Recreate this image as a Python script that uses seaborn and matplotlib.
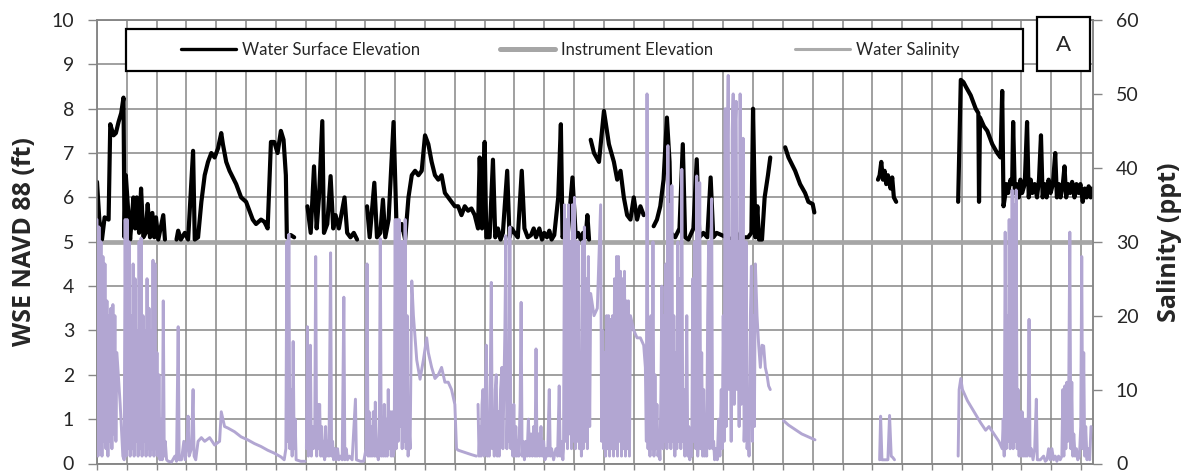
import numpy as np
import pandas as pd
import matplotlib
matplotlib.use("Agg")
import matplotlib.pyplot as plt
import seaborn as sns
from matplotlib.lines import Line2D
from matplotlib.patches import Rectangle

# ---------------- data: (t, value) readings; t = time index, one grid interval = 90 steps ----------------
# Water surface elevation (ft NAVD 88), one array per continuous record segment
wse_seg1 = [(0, 6.35), (7, 5.5), (15, 5.05), (23, 5.55), (35, 5.5), (40, 7.65), (50, 7.4), (57, 7.45), (65, 7.7),
            (73, 7.9), (80, 8.25), (83, 5.1), (87, 6.5), (95, 5.6), (100, 5.05), (110, 6.0), (115, 5.3), (120, 6.0),
            (127, 5.2), (133, 6.2), (140, 5.1), (147, 5.2), (153, 5.85), (160, 5.1), (167, 5.65), (173, 5.1),
            (178, 5.55), (185, 5.05), (200, 5.6), (205, 5.05)]
wse_seg2 = [(240, 5.05), (245, 5.25), (253, 5.05), (265, 5.2), (275, 5.05), (290, 7.05), (295, 5.05), (305, 5.1),
            (315, 5.9), (325, 6.5), (335, 6.8), (345, 7.0), (355, 6.9), (365, 7.1), (375, 7.45), (380, 7.2),
            (390, 6.8), (400, 6.6), (410, 6.45), (420, 6.3), (435, 6.0), (450, 5.9), (460, 5.7), (470, 5.5),
            (480, 5.4), (495, 5.5), (505, 5.45), (515, 5.3), (525, 7.25), (535, 7.25), (545, 7.0), (555, 7.5),
            (563, 7.3), (570, 6.5), (573, 5.1), (585, 5.15), (595, 5.1)]
wse_seg3 = [(635, 5.8), (645, 5.2), (655, 6.7), (663, 5.3), (670, 6.0), (680, 7.72), (685, 5.2), (695, 5.4),
            (705, 6.48), (713, 5.3), (720, 5.6), (730, 5.3), (747, 6.0), (755, 5.2), (765, 5.1), (775, 5.2),
            (785, 5.05)]
wse_seg4 = [(815, 5.8), (823, 5.1), (837, 6.33), (845, 5.1), (855, 5.2), (863, 5.95), (870, 5.1), (880, 5.5),
            (895, 7.7), (905, 5.1), (920, 5.4), (930, 5.05), (940, 6.0), (950, 6.5), (960, 6.6), (970, 6.5),
            (980, 6.6), (990, 7.4), (1000, 7.2), (1010, 6.8), (1020, 6.5), (1030, 6.4), (1040, 6.5), (1050, 6.1),
            (1060, 6.0), (1070, 5.9), (1080, 5.8), (1090, 5.8), (1100, 5.6), (1110, 5.8), (1120, 5.7), (1130, 5.75),
            (1140, 5.6), (1150, 5.3), (1155, 6.9), (1162, 5.3), (1170, 7.25), (1175, 5.1), (1185, 5.1), (1195, 6.85),
            (1202, 5.1), (1210, 5.3), (1218, 5.05), (1225, 5.2), (1238, 6.6), (1245, 5.1), (1252, 5.3), (1260, 5.2),
            (1270, 5.1), (1282, 6.6), (1290, 5.3), (1300, 5.1), (1310, 5.15), (1318, 5.3), (1325, 5.1), (1335, 5.3),
            (1343, 5.05), (1350, 5.2), (1358, 5.1), (1365, 5.25), (1372, 5.05), (1380, 5.15), (1392, 6.0),
            (1400, 7.65), (1405, 5.1), (1412, 5.25), (1420, 5.1), (1435, 6.45), (1445, 5.1), (1452, 5.2),
            (1460, 5.05), (1467, 5.2), (1475, 5.1), (1480, 5.6), (1485, 5.05)]
wse_seg5 = [(1490, 7.3), (1500, 7.0), (1515, 6.8), (1530, 7.95), (1545, 7.2), (1560, 6.8), (1570, 6.4), (1580, 6.6),
            (1590, 6.0), (1600, 5.6), (1610, 5.5), (1620, 6.0), (1630, 5.5), (1640, 5.8), (1650, 5.6)]
wse_seg6 = [(1680, 5.35), (1690, 5.5), (1700, 5.8), (1710, 6.4), (1720, 7.8), (1728, 6.8), (1732, 5.2), (1745, 5.1),
            (1758, 5.3), (1768, 7.2), (1775, 5.1), (1785, 5.05), (1800, 5.3), (1810, 6.86), (1818, 5.1),
            (1830, 5.2), (1842, 5.1), (1852, 6.45), (1860, 5.1), (1870, 5.2), (1885, 5.15), (1900, 5.1),
            (1910, 5.05), (1920, 5.1), (1930, 5.2), (1940, 5.05), (1950, 5.1), (1965, 5.1), (1975, 5.2),
            (1980, 8.0), (1987, 5.1), (1993, 5.8), (1998, 5.05), (2007, 5.05), (2015, 6.0), (2025, 6.5), (2032, 6.9)]
wse_seg7 = [(2077, 7.13), (2087, 6.9), (2107, 6.6), (2122, 6.3), (2137, 6.1), (2147, 5.9), (2160, 5.85), (2165, 5.66)]
wse_seg8 = [(2357, 6.4), (2362, 6.5), (2367, 6.8), (2372, 6.4), (2377, 6.6), (2382, 6.3), (2387, 6.5), (2395, 6.2),
            (2400, 6.45), (2405, 6.0), (2412, 5.9)]
wse_seg9 = [(2599, 5.9), (2607, 8.65), (2615, 8.6), (2622, 8.5), (2637, 8.3), (2652, 8.0), (2660, 7.9), (2662, 5.9),
            (2665, 7.8), (2677, 7.6), (2687, 7.5), (2702, 7.2), (2717, 7.0), (2727, 6.9), (2732, 8.4), (2736, 5.8),
            (2740, 6.0), (2745, 6.3), (2750, 6.1), (2757, 6.4), (2762, 6.3), (2765, 7.7), (2770, 6.1), (2776, 6.3),
            (2782, 6.0), (2787, 6.4), (2792, 6.1), (2800, 6.3), (2807, 7.7), (2812, 6.0), (2818, 6.4), (2823, 6.1),
            (2830, 6.3), (2837, 6.0), (2843, 6.4), (2849, 7.4), (2854, 6.0), (2860, 6.3), (2866, 6.0), (2872, 6.4),
            (2878, 6.1), (2885, 6.3), (2892, 7.0), (2897, 6.0), (2903, 6.3), (2908, 6.0), (2915, 6.3), (2920, 6.7),
            (2925, 6.0), (2931, 6.3), (2937, 6.1), (2943, 6.35), (2950, 6.0), (2956, 6.3), (2962, 6.1), (2968, 6.3),
            (2975, 5.9), (2981, 6.2), (2987, 6.0), (2993, 6.25), (2999, 6.0), (3003, 6.2)]

# Instrument elevation (ft)
inst_seg = [(0, 5.0), (3006, 5.0)]

# Water salinity (ppt), one array per continuous record segment
sal_seg1 = [(0, 33), (3, 1), (6, 32), (9, 2), (12, 30), (15, 1), (18, 28), (21, 3), (24, 27), (27, 2), (30, 22),
            (33, 1), (36, 20), (39, 3), (42, 21), (45, 2), (48, 21.5), (51, 4), (54, 20), (57, 3), (60, 15), (70, 8),
            (78, 1), (82, 0.5), (85, 33), (88, 1), (91, 33), (94, 2), (97, 30), (100, 1), (103, 20), (106, 2),
            (109, 27), (112, 1), (115, 25), (118, 3), (121, 18), (124, 1), (127, 30), (130, 2), (133, 30.5), (136, 1),
            (139, 20), (142, 3), (145, 18), (148, 1), (151, 25), (154, 2), (157, 21), (160, 1), (163, 18), (166, 2),
            (169, 27.5), (172, 1), (175, 27), (178, 2), (181, 15), (184, 1), (187, 12), (190, 0.5), (194, 6),
            (197, 0.5), (200, 22), (203, 1), (206, 3), (210, 0.5), (215, 0.3), (225, 0.2), (235, 1), (240, 0.3),
            (245, 18.5), (248, 0.5), (255, 0.5), (262, 3), (266, 0.5), (272, 3), (275, 6.4), (278, 1), (285, 2),
            (290, 10), (293, 1), (298, 0.5), (305, 3), (315, 3.5), (325, 3), (340, 3.5), (355, 2.5), (370, 3),
            (375, 7), (385, 5), (395, 4.8), (415, 4.3), (435, 3.6), (455, 3.2), (475, 2.7), (495, 2.3), (515, 1.8),
            (535, 1.4), (555, 0.9), (565, 0.5), (570, 2), (573, 30), (576, 3), (579, 31), (582, 2), (585, 10),
            (589, 1), (592, 16.5), (595, 2), (598, 6), (601, 0.5), (615, 0.3), (628, 0.3)]
sal_seg2 = [(632, 2), (635, 18.5), (638, 1), (641, 8), (644, 16), (647, 1), (650, 5), (653, 2), (657, 3), (660, 28),
            (663, 1), (666, 8), (669, 2), (672, 8), (675, 1), (678, 5), (681, 1), (684, 3), (687, 0.5), (690, 5),
            (693, 1), (696, 3), (700, 1), (705, 28.5), (708, 1), (711, 3), (714, 0.5), (718, 2), (722, 0.5),
            (726, 2), (730, 0.5), (735, 1), (740, 0.5), (745, 22.5), (748, 0.5), (752, 2), (756, 0.5), (762, 1),
            (770, 0.5), (780, 8.7), (783, 0.5), (795, 0.3), (805, 0.3), (812, 2), (815, 27), (818, 1), (821, 7),
            (824, 1), (827, 5), (830, 1), (834, 7), (837, 1), (840, 8.3), (843, 1), (846, 3), (849, 0.5), (852, 5),
            (855, 30.4), (858, 1), (861, 5), (864, 1), (867, 8), (870, 1), (873, 6), (876, 1), (879, 10), (882, 2),
            (885, 7), (888, 1), (891, 7), (894, 1), (897, 2), (900, 33), (903, 2), (906, 33), (909, 3), (912, 33),
            (915, 5), (918, 30), (921, 2), (924, 30), (927, 3), (930, 33), (933, 2), (936, 20), (939, 1), (942, 5),
            (945, 2), (950, 24.7), (955, 20), (965, 14), (975, 11.4), (985, 14), (995, 17), (1000, 15), (1010, 13),
            (1020, 11.5), (1030, 12), (1040, 13), (1050, 11), (1060, 11), (1070, 10), (1080, 8), (1085, 2),
            (1090, 1.8), (1110, 1.5), (1130, 1.2), (1145, 1.0)]
sal_seg3 = [(1150, 8), (1153, 1), (1156, 5), (1159, 1), (1162, 8), (1165, 10), (1168, 1), (1171, 8), (1175, 16),
            (1178, 1), (1181, 5), (1184, 1), (1187, 12), (1190, 24.5), (1193, 2), (1196, 6), (1199, 1), (1202, 10),
            (1205, 12), (1208, 1), (1211, 7), (1214, 1), (1218, 10), (1222, 13), (1225, 2), (1228, 10), (1231, 18),
            (1234, 30.8), (1237, 2), (1240, 10), (1243, 3), (1246, 32), (1249, 2), (1252, 6), (1255, 1), (1258, 8),
            (1261, 1), (1264, 5), (1267, 1), (1270, 3), (1273, 1), (1277, 8), (1280, 21.8), (1283, 1), (1286, 3),
            (1290, 0.5), (1294, 3), (1298, 1), (1302, 6), (1306, 1), (1310, 4), (1314, 1), (1318, 5), (1322, 1),
            (1325, 15.5), (1328, 1), (1332, 4), (1336, 1), (1340, 5), (1344, 1), (1348, 3), (1352, 0.5), (1356, 2),
            (1360, 1), (1365, 10), (1368, 1), (1372, 2), (1378, 0.5), (1385, 2), (1390, 1), (1395, 10.5), (1398, 1),
            (1402, 3), (1406, 0.5), (1408, 2), (1411, 35), (1414, 3), (1417, 33), (1420, 2), (1423, 35), (1426, 4),
            (1429, 30), (1432, 2), (1435, 35), (1438, 3), (1441, 36), (1444, 2), (1447, 30), (1450, 3), (1453, 30),
            (1456, 2), (1459, 15), (1462, 1), (1465, 30), (1468, 2), (1471, 32), (1474, 3), (1477, 25), (1480, 2),
            (1483, 28), (1487, 5), (1490, 23), (1500, 20), (1510, 21), (1515, 28), (1520, 35), (1523, 3), (1526, 18),
            (1529, 2), (1532, 15), (1535, 1), (1538, 20), (1541, 2), (1544, 20), (1547, 1), (1550, 19.5), (1553, 2),
            (1556, 20), (1559, 1), (1562, 25), (1565, 2), (1568, 28), (1571, 1), (1574, 28), (1577, 3), (1580, 26),
            (1583, 1), (1586, 25), (1589, 2), (1592, 26), (1595, 1), (1598, 22), (1601, 2), (1604, 22), (1607, 1),
            (1610, 20), (1620, 18), (1630, 17), (1640, 17), (1650, 16), (1655, 13), (1658, 3), (1660, 50), (1663, 2),
            (1666, 10), (1669, 1), (1672, 20), (1675, 2), (1678, 30), (1681, 1), (1684, 12), (1687, 2), (1690, 8),
            (1693, 1), (1696, 3), (1699, 0.5), (1702, 10), (1705, 24), (1708, 2), (1711, 20), (1714, 3), (1717, 27),
            (1720, 2), (1723, 43), (1726, 3), (1729, 35), (1732, 2), (1735, 37.6), (1738, 3), (1741, 20), (1744, 1),
            (1747, 15), (1750, 2), (1753, 30), (1756, 3), (1759, 25), (1762, 2), (1765, 39.8), (1768, 3), (1771, 10),
            (1774, 1), (1777, 5), (1780, 20), (1783, 1), (1786, 5), (1789, 0.5), (1792, 3), (1795, 1), (1798, 25),
            (1801, 3), (1804, 30), (1807, 2), (1810, 38.9), (1813, 1), (1816, 5), (1819, 38), (1822, 2), (1825, 15),
            (1828, 1), (1831, 10), (1834, 1), (1837, 6), (1840, 1), (1843, 20), (1846, 30), (1849, 2), (1852, 25),
            (1855, 35.8), (1858, 2), (1861, 3), (1864, 0.5), (1868, 2), (1872, 0.5), (1876, 6), (1880, 1), (1884, 10),
            (1887, 2), (1890, 20), (1893, 3), (1896, 48), (1899, 5), (1902, 40), (1905, 52.5), (1908, 10), (1911, 30),
            (1914, 3), (1917, 45), (1920, 50), (1923, 8), (1926, 45), (1929, 49), (1932, 10), (1935, 30), (1938, 5),
            (1941, 50), (1944, 8), (1947, 20), (1950, 44), (1953, 3), (1956, 8), (1959, 30), (1962, 2), (1965, 5),
            (1968, 1), (1972, 20), (1975, 26.7), (1978, 3), (1981, 20), (1984, 5), (1987, 27), (1992, 20), (1997, 16),
            (2002, 13), (2007, 16), (2012, 15.9), (2017, 13), (2022, 12), (2027, 10.5), (2032, 10)]
sal_seg4 = [(2072, 5.8), (2087, 5.2), (2107, 4.6), (2127, 4.0), (2147, 3.6), (2167, 3.2)]
sal_seg5 = [(2362, 0.5), (2365, 6.4), (2369, 0.5), (2387, 0.5), (2392, 6.5), (2397, 1), (2402, 0.8), (2407, 0.5)]
sal_seg6 = [(2599, 1), (2602, 10), (2607, 11.5), (2612, 10), (2627, 8.5), (2647, 7), (2667, 5.5), (2682, 4.5),
            (2692, 5), (2707, 4), (2722, 3), (2732, 2), (2735, 6), (2738, 1), (2741, 31.3), (2744, 2), (2747, 20),
            (2750, 3), (2753, 33), (2756, 2), (2759, 10), (2762, 37), (2765, 2), (2768, 35), (2771, 3), (2774, 37),
            (2777, 2), (2780, 10), (2783, 1), (2786, 7), (2789, 1), (2792, 7), (2795, 1), (2798, 6), (2801, 1),
            (2804, 6), (2807, 1), (2810, 3), (2813, 19.5), (2816, 1), (2820, 2), (2825, 0.5), (2830, 2), (2835, 8.7),
            (2838, 0.5), (2847, 0.5), (2857, 1), (2862, 0.3), (2867, 0.5), (2872, 2), (2877, 0.5), (2882, 2),
            (2887, 0.5), (2892, 1), (2897, 0.3), (2902, 1), (2907, 0.5), (2912, 1), (2915, 10), (2918, 1),
            (2921, 10.5), (2924, 2), (2927, 11), (2930, 3), (2933, 11.5), (2936, 31.3), (2939, 2), (2942, 11),
            (2945, 1), (2948, 4), (2952, 1), (2956, 2), (2960, 0.5), (2965, 1), (2969, 5), (2972, 28), (2975, 2),
            (2978, 15), (2981, 1), (2984, 5), (2988, 0.5), (2992, 2), (2996, 0.5), (3000, 5)]

left_ticks = list(range(0, 11))
right_ticks = [0, 10, 20, 30, 40, 50, 60]
legend_labels = ["Water Surface Elevation", "Instrument Elevation", "Water Salinity"]
panel_label = "A"
x_grid_step = 90
x_max = 3006


def to_frame(*segments):
    rows = []
    for k, seg in enumerate(segments):
        for t, v in seg:
            rows.append((t, v, k))
    return pd.DataFrame(rows, columns=["t", "v", "seg"])


wse_df = to_frame(wse_seg1, wse_seg2, wse_seg3, wse_seg4, wse_seg5, wse_seg6, wse_seg7, wse_seg8, wse_seg9)
inst_df = to_frame(inst_seg)
sal_df = to_frame(sal_seg1, sal_seg2, sal_seg3, sal_seg4, sal_seg5, sal_seg6)

# ---------------- styling ----------------
sns.set_style("white")
plt.rcParams["font.family"] = ["Lato", "DejaVu Sans"]

W, H = 1190, 476
GRID = "#868686"
C_WSE = "#000000"
C_INST = "#a6a6a6"
C_SAL = "#b2a6d2"

fig = plt.figure(figsize=(W / 100, H / 100), dpi=100)
L, R, T, B = 97, 1093, 20, 463.5
ax = fig.add_axes([L / W, 1 - B / H, (R - L) / W, (B - T) / H])

sns.lineplot(data=inst_df, x="t", y="v", units="seg", estimator=None, color=C_INST, lw=3.4, ax=ax, zorder=3)
sns.lineplot(data=wse_df, x="t", y="v", units="seg", estimator=None, color=C_WSE, lw=3.0, ax=ax, zorder=4)

ax.set_xlim(0, x_max)
ax.set_ylim(0, 10)
ax.set_xticks(np.arange(0, x_max, x_grid_step))
ax.set_xticklabels([])
ax.set_yticks(left_ticks)
ax.set_yticklabels([str(v) for v in left_ticks])
ax.grid(True, color=GRID, linewidth=1.1, zorder=0)
ax.set_axisbelow(True)
ax.tick_params(axis="x", direction="out", length=4.5, width=1.0, color=GRID, bottom=True)
ax.tick_params(axis="y", direction="out", length=6.5, width=1.0, color=GRID, labelsize=14, pad=10, left=True)
for s in ax.spines.values():
    s.set_color(GRID)
    s.set_linewidth(1.1)
ax.set_xlabel("")
ax.set_ylabel("WSE NAVD 88 (ft)", fontsize=18, fontweight="bold", family=["Open Sans", "DejaVu Sans"])
ax.yaxis.set_label_coords((37 - L) / (R - L), 0.5)

ax2 = ax.twinx()
sns.lineplot(data=sal_df, x="t", y="v", units="seg", estimator=None, color=C_SAL, lw=2.1, ax=ax2, zorder=5)
ax2.set_ylim(0, 60)
ax2.set_xlim(0, x_max)
ax2.set_yticks(right_ticks)
ax2.set_yticklabels([str(v) for v in right_ticks])
ax2.grid(False)
ax2.tick_params(axis="y", direction="out", length=6.5, width=1.0, color=GRID, labelsize=14, pad=10, right=True)
for s in ax2.spines.values():
    s.set_color(GRID)
    s.set_linewidth(1.1)
ax2.set_xlabel("")
ax2.set_ylabel("Salinity (ppt)", fontsize=18, fontweight="bold", rotation=90, family=["Open Sans", "DejaVu Sans"])
ax2.yaxis.set_label_coords((1157 - L) / (R - L), 0.5)

# legend frame
fig.add_artist(Rectangle((126 / W, 1 - 71 / H), (1023 - 126) / W, (71 - 29) / H, transform=fig.transFigure,
                         facecolor="white", edgecolor="black", lw=1.6, zorder=4))
handles = [Line2D([], [], color=C_WSE, lw=2.4),
           Line2D([], [], color=C_INST, lw=3.6),
           Line2D([], [], color="#ababab", lw=2.2)]
starts = [181, 500, 795]
for h, lab, x0 in zip(handles, legend_labels, starts):
    fig.legend(handles=[h], labels=[lab], loc="center left", bbox_to_anchor=(x0 / W, 1 - 50 / H),
               bbox_transform=fig.transFigure, frameon=False, borderpad=0, borderaxespad=0,
               handlelength=3.3, handletextpad=0.35, fontsize=12)

# panel label box
fig.add_artist(Rectangle((1037 / W, 1 - 71 / H), 53 / W, 54 / H, transform=fig.transFigure,
                         facecolor="white", edgecolor="black", lw=1.6, zorder=4))
fig.text(1063 / W, 1 - 45 / H, panel_label, ha="center", va="center", fontsize=16, zorder=6)

fig.savefig("out.png", dpi=100)
